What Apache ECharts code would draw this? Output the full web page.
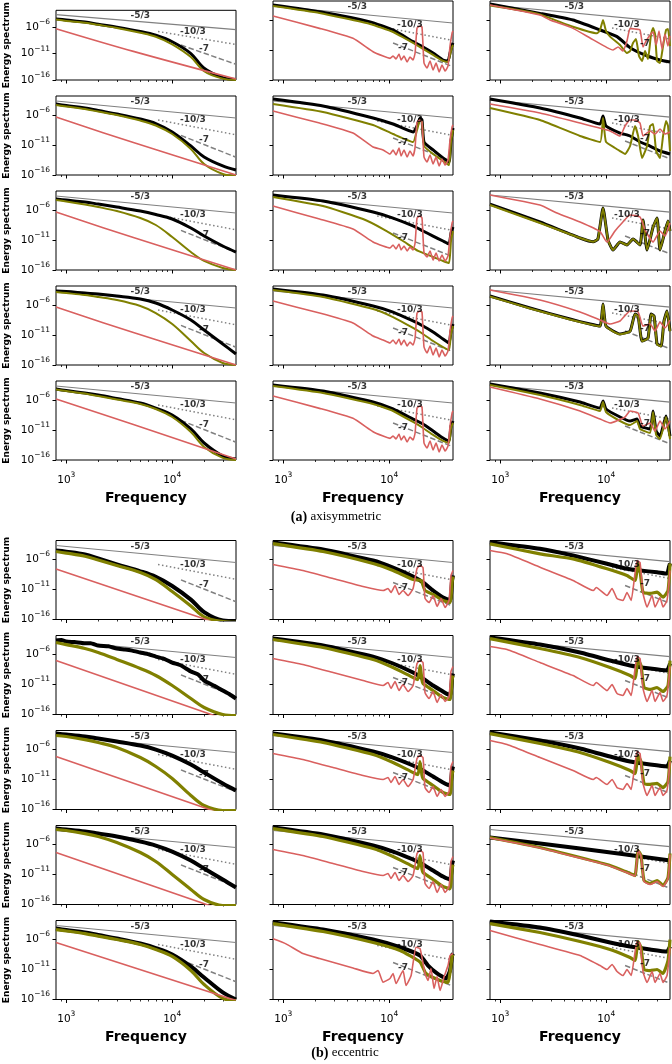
<!DOCTYPE html>
<html><head><meta charset="utf-8">
<script src="https://cdn.jsdelivr.net/npm/echarts@6/dist/echarts.min.js"></script>
<style>html,body{margin:0;padding:0;background:#fff}#c{width:672px;height:1064px}</style>
</head><body><div id="c"></div>
<script>
// ---------- data ----------
const FREQ_GRID = [800, 1000, 1500, 2000, 3000, 5000, 7000, 10000, 15000, 20000, 30000, 40000];
const X_MAJOR = [1000, 10000];
const X_MINOR = [900, 2000, 3000, 4000, 5000, 6000, 7000, 8000, 9000, 20000, 30000];
const Y_MAJOR = [1.0001e-16, 1e-11, 1e-6];

// reference slopes
const ref53C1 = [[800, 2.2e-4], [40000, 3.2e-7]];
const ref53C2 = [[800, 2.2e-4], [40000, 3.2e-7]];
const ref53C3 = [[800, 3.2e-4], [40000, 4.6e-7]];
const ref103C1 = [[7350, 1.5e-7], [40000, 5.2e-10]];
const ref103C2 = [[7700, 1.0e-7], [40000, 4.0e-10]];
const ref103C3 = [[11350, 4.6e-8], [40000, 6.8e-10]];
const ref7C1 = [[12100, 4e-10], [40000, 9.3e-14]];
const ref7C2 = [[10870, 1.5e-10], [40000, 1.6e-14]];
const ref7C3 = [[15060, 4.6e-11], [40000, 5e-14]];
const lblC1 = [[5000, 1.5e-4, '-5/3'], [15700, 1.5e-7, '-10/3'], [20000, 6.8e-11, '-7']];
const lblC2 = [[5000, 1.5e-4, '-5/3'], [15700, 1.5e-7, '-10/3'], [13500, 2.2e-11, '-7']];
const lblC3 = [[5000, 1.5e-4, '-5/3'], [15700, 1.5e-7, '-10/3'], [23270, 1e-10, '-7']];

// (a) column 1 (energies on FREQ_GRID)
const a11K = [3.6e-5, 2.2e-5, 9e-6, 3.6e-6, 1e-6, 1.5e-7, 2.9e-8, 1.7e-9, 1e-11, 1.7e-14, 2.8e-16, 1.2e-16];
const a11O = [2.7e-5, 1.5e-5, 6.8e-6, 2.7e-6, 6.8e-7, 8.3e-8, 1.5e-8, 5.6e-10, 2.2e-12, 4.6e-15, 1.8e-16, 1e-16];
const a11R = [[800, 5.1e-7], [4300, 2.6e-11], [40000, 1.5e-16]];
const a21K = [6.8e-5, 3.8e-5, 1.5e-5, 5.6e-6, 1.5e-6, 2.2e-7, 3.8e-8, 1.5e-9, 6.8e-12, 1e-13, 3.2e-15, 6.8e-16];
const a21O = [4.6e-5, 2.7e-5, 1e-5, 3.8e-6, 1e-6, 1.2e-7, 1.8e-8, 6.8e-10, 2.2e-12, 6.8e-15, 1.5e-16, 8e-17];
const a21R = [[800, 4.6e-7], [4300, 2.6e-11], [40000, 1e-16]];
const a31K = [6.8e-5, 4.6e-5, 2.2e-5, 1e-5, 3.2e-6, 6.8e-7, 1.8e-7, 3.2e-8, 1e-9, 4.6e-11, 1e-12, 1e-13];
const a31O = [4.6e-5, 2.7e-5, 8.3e-6, 3.2e-6, 6.8e-7, 4.6e-8, 3.2e-9, 3.2e-11, 1e-13, 3.2e-15, 2.2e-16, 1e-16];
const a31R = [[800, 4.6e-7], [4300, 2.6e-11], [40000, 1e-16]];
const a41K = [2.2e-4, 1.8e-4, 1e-4, 6.8e-5, 3.2e-5, 1e-5, 2.2e-6, 1.5e-7, 3.2e-9, 6.8e-11, 3.2e-13, 6.8e-15];
const a41O = [1.5e-4, 1e-4, 4.6e-5, 2.2e-5, 6.8e-6, 6.8e-7, 4.6e-8, 6.8e-10, 1e-12, 1e-14, 2.2e-16, 1e-16];
const a41R = [[800, 4.6e-7], [4300, 2.6e-11], [40000, 1e-16]];
const a51K = [6.8e-5, 3.8e-5, 1.5e-5, 6.8e-6, 1.8e-6, 3.2e-7, 4.6e-8, 3.2e-9, 1.5e-11, 6.8e-14, 4.6e-16, 1.5e-16];
const a51O = [5.6e-5, 3.2e-5, 1.2e-5, 4.6e-6, 1.2e-6, 2.2e-7, 3.2e-8, 1.5e-9, 4.6e-12, 1.5e-14, 2.2e-16, 1e-16];
const a51R = [[800, 1.5e-6], [4300, 8e-11], [40000, 1.5e-16]];

// (b) column 1
const b11K = [3.1e-5, 2e-5, 6.8e-6, 1.5e-6, 1.6e-7, 1.1e-8, 1.3e-9, 3.9e-11, 2.1e-13, 1.7e-15, 6.8e-17, 5e-17];
const b11O = [2.2e-5, 1.2e-5, 3.5e-6, 8.3e-7, 1e-7, 6.8e-9, 4.4e-10, 4.6e-12, 1.8e-14, 2.8e-16, 4.6e-17, 3.2e-17];
const b11R = [[800, 2.6e-8], [40000, 2.1e-18]];
const b21K = [[800,2.2e-4],[900,2.6e-4],[1000,1.5e-4],[1200,1.2e-4],[1500,7.5e-5],[1700,8e-5],[2000,3.2e-5],[2500,2.4e-5],[3000,1e-5],[3600,7e-6],[4200,4.5e-6],[5000,2.2e-6],[6000,1.1e-6],[7000,4.6e-7],[8500,1.8e-7],[10000,4.6e-8],[12000,1.6e-8],[15000,1.5e-9],[17500,5e-10],[20000,4.6e-11],[25000,6e-12],[30000,1e-12],[35000,2.2e-13],[40000,4.6e-14]];
const b21O = [1e-4, 4.6e-5, 1e-5, 2.2e-6, 1.5e-7, 4.6e-9, 3.2e-10, 6.8e-12, 4.6e-14, 1.5e-15, 1e-16, 6.8e-17];
const b21R = [[800, 1e-7], [40000, 3.6e-18]];
const b31K = [4.6e-4, 3.2e-4, 1.5e-4, 6.8e-5, 2.2e-5, 4.6e-6, 1e-6, 1e-7, 3.2e-9, 1.5e-10, 2.2e-12, 1.5e-13];
const b31O = [2.2e-4, 1.5e-4, 4.6e-5, 1.5e-5, 2.2e-6, 4.6e-8, 1.5e-9, 1.5e-11, 2.2e-14, 4.6e-16, 6.8e-17, 6.8e-17];
const b31R = [[800, 6.8e-8], [40000, 3e-18]];
const b41K = [4.6e-4, 3.2e-4, 1.5e-4, 6.8e-5, 2.2e-5, 3.2e-6, 6.8e-7, 6.8e-8, 2.2e-9, 1e-10, 1.5e-12, 6.8e-14];
const b41O = [3.2e-4, 2.2e-4, 6.8e-5, 2.2e-5, 2.2e-6, 4.6e-8, 1.5e-9, 1e-11, 3.2e-14, 6.8e-16, 6.8e-17, 6.8e-17];
const b41R = [[800, 4.6e-8], [40000, 2e-18]];
const b51K = [6.8e-5, 3.8e-5, 1.5e-5, 5.6e-6, 1.5e-6, 2.2e-7, 3.8e-8, 3.2e-9, 3.2e-11, 4.6e-13, 1.5e-15, 1e-16];
const b51O = [4.6e-5, 2.7e-5, 1e-5, 3.8e-6, 1e-6, 1.5e-7, 2.2e-8, 1.5e-9, 6.8e-12, 3.2e-14, 1.5e-16, 6.8e-17];
const b51R = [[800, 3.2e-7], [40000, 6.8e-17]];

// (a) column 2
const a12K = [[800,3.2e-4],[2200,2.4e-5],[6600,5e-7],[10870,2.2e-8],[16800,2.5e-10],[20850,3.2e-11],[25940,3.2e-12],[32200,2.2e-13],[35900,1.5e-13],[37500,3.2e-12],[39200,6.8e-11],[40000,1.5e-10]];
const a12O = [[800,2.2e-4],[2200,1.5e-5],[6600,2.2e-7],[10870,1e-8],[16800,1.5e-10],[20850,1.5e-11],[25940,1.5e-12],[32200,1.5e-13],[35900,1e-13],[37500,1.5e-12],[39200,3.2e-11],[40000,6.8e-11]];
const a12R = [[800,4.6e-6],[2200,4.1e-8],[4550,9e-10],[7040,5.2e-12],[8750,1e-12],[10180,4.1e-13],[10870,1e-12],[11600,3.2e-13],[12380,2.2e-12],[12950,2.2e-13],[13800,1e-12],[14760,1e-13],[15700,6.8e-13],[16800,2.2e-13],[17550,3.2e-12],[18300,4.6e-8],[19550,1e-7],[20400,6.8e-8],[21300,6.8e-14],[22750,1e-14],[24300,1.5e-13],[25940,4.6e-15],[27700,6.8e-14],[29600,2.2e-15],[31500,3.2e-14],[33700,3.2e-15],[35900,2.2e-14],[37500,4.6e-11],[39200,6.8e-9],[40000,1.5e-8]];
const a22K = [[800,4.6e-4],[2370,3.2e-5],[7040,3.2e-7],[10870,3.2e-8],[16800,1.5e-9],[18300,1.5e-8],[19550,3.2e-7],[20400,1.5e-7],[21300,3.2e-11],[25940,1.5e-12],[32200,6.8e-14],[36700,1.5e-14],[38300,4.6e-11],[40000,6.8e-9]];
const a22O = [[800,6.8e-5],[2370,3.2e-6],[7040,2.2e-8],[10870,6.8e-10],[16800,3.2e-11],[18300,3.2e-9],[19550,1.5e-7],[20400,6.8e-8],[21300,6.8e-12],[25940,3.2e-13],[32200,2.2e-14],[36700,4.6e-15],[38300,3.2e-11],[40000,3.2e-9]];
const a22R = [[800,4.6e-6],[2200,4.6e-8],[4550,1e-9],[7040,4.6e-12],[8750,1.5e-12],[10180,3.2e-13],[10870,1.5e-12],[11600,2.2e-13],[12380,3.2e-12],[12950,1.5e-13],[13800,1.5e-12],[14760,1e-13],[15700,1e-12],[16800,1.5e-13],[17550,4.6e-12],[18300,6.8e-8],[19550,1.5e-7],[20400,6.8e-8],[21300,1e-13],[22750,1.5e-14],[24300,2.2e-13],[25940,6.8e-15],[27700,1e-13],[29600,3.2e-15],[31500,4.6e-14],[33700,4.6e-15],[35900,3.2e-14],[37500,6.8e-11],[39200,1e-8],[40000,2.2e-8]];
const a32K = [[800,3.2e-4],[2370,3.2e-5],[7040,4.6e-7],[10870,4.6e-8],[16800,2.2e-9],[20850,3.2e-10],[25940,4.6e-11],[32200,6.8e-12],[36700,2.2e-12],[38300,1.5e-10],[40000,1.5e-9]];
const a32O = [[800,1.5e-4],[2370,4.6e-6],[5660,3.2e-8],[8750,6.8e-10],[13500,6.8e-12],[18700,1.5e-13],[25940,1.5e-14],[32200,3.2e-15],[36700,1.5e-15],[38300,6.8e-12],[40000,3.2e-10]];
const a32R = [[800,4.6e-6],[2200,3.2e-8],[4550,6.8e-10],[7040,4.6e-12],[8750,1e-12],[10180,4.6e-13],[10870,1.5e-12],[11600,3.2e-13],[12380,2.2e-12],[12950,2.2e-13],[13800,1e-12],[14760,1.5e-13],[15700,6.8e-13],[16800,2.2e-13],[17550,3.2e-12],[18300,4.6e-8],[19550,1e-7],[20400,4.6e-8],[21300,6.8e-14],[22750,1.5e-14],[24300,1.5e-13],[25940,4.6e-15],[27700,6.8e-14],[29600,3.2e-15],[31500,3.2e-14],[33700,3.2e-15],[35900,2.2e-14],[37500,4.6e-11],[39200,6.8e-9],[40000,1.5e-8]];
const a42K = [[800,4.6e-4],[2370,4.6e-5],[7040,6.8e-7],[10870,6.8e-8],[16800,2.2e-9],[20850,3.2e-10],[25940,3.2e-11],[32200,2.2e-12],[36700,4.6e-13],[38300,4.6e-11],[40000,6.8e-10]];
const a42O = [[800,3.2e-4],[2370,2.2e-5],[7040,2.2e-7],[10870,1e-8],[16800,1.5e-10],[20850,1.5e-11],[25940,1e-12],[32200,1e-13],[36700,3.2e-14],[38300,1.5e-11],[40000,3.2e-10]];
const a42R = [[800,4.6e-6],[2200,4.6e-8],[4550,1e-9],[7040,6.8e-12],[8750,1.5e-12],[10180,4.6e-13],[10870,1.5e-12],[11600,3.2e-13],[12380,2.2e-12],[12950,2.2e-13],[13800,1.5e-12],[14760,1.5e-13],[15700,6.8e-13],[16800,2.2e-13],[17550,3.2e-12],[18300,4.6e-8],[19550,1e-7],[20400,6.8e-8],[21300,1e-13],[22750,1e-14],[24300,1.5e-13],[25940,4.6e-15],[27700,6.8e-14],[29600,2.2e-15],[31500,3.2e-14],[33700,3.2e-15],[35900,2.2e-14],[37500,4.6e-11],[39200,6.8e-9],[40000,1.5e-8]];
const a52K = [[800,3.2e-4],[2370,3.2e-5],[7040,4.6e-7],[10870,3.2e-8],[16800,6.8e-10],[20850,1e-10],[25940,6.8e-12],[32200,4.6e-13],[36700,1.5e-13],[38300,4.6e-11],[40000,3.2e-10]];
const a52O = [[800,2.2e-4],[2370,1.5e-5],[7040,2.2e-7],[10870,1.5e-8],[16800,2.2e-10],[20850,2.2e-11],[25940,1.5e-12],[32200,1.5e-13],[36700,6.8e-14],[38300,2.2e-11],[40000,1.5e-10]];
const a52R = [[800,4.6e-6],[2200,4.1e-8],[4550,9e-10],[7040,5.2e-12],[8750,1e-12],[10180,4.1e-13],[10870,1e-12],[11600,3.2e-13],[12380,2.2e-12],[12950,2.2e-13],[13800,1e-12],[14760,1e-13],[15700,6.8e-13],[16800,2.2e-13],[17550,3.2e-12],[18300,4.6e-8],[19550,1e-7],[20400,6.8e-8],[21300,6.8e-14],[22750,1e-14],[24300,1.5e-13],[25940,4.6e-15],[27700,6.8e-14],[29600,2.2e-15],[31500,3.2e-14],[33700,3.2e-15],[35900,2.2e-14],[37500,4.6e-11],[39200,6.8e-9],[40000,1.5e-8]];

// (b) column 2
const b12K = [[800,6.8e-4],[2370,4.6e-5],[7040,6.8e-7],[10870,4.6e-8],[16800,1.5e-9],[20850,1.5e-10],[25940,6.8e-12],[32200,4.6e-13],[37500,1.5e-13],[39200,3.2e-10],[40000,2.2e-9]];
const b12O = [[800,4.6e-4],[2370,2.2e-5],[7040,2.2e-7],[10870,1.5e-8],[16800,4.6e-10],[20000,3.2e-10],[21780,6.8e-12],[25940,1.5e-12],[32200,1.5e-13],[37500,6.8e-14],[39200,1.5e-10],[40000,1.5e-9]];
const b12R = [[800,1.5e-7],[1530,1.5e-8],[2950,6.8e-10],[5660,3.2e-11],[8750,6.8e-12],[9750,1.5e-11],[10400,3.2e-12],[11350,4.6e-11],[12380,1.5e-12],[13500,6.8e-12],[15060,1e-12],[16800,1.5e-11],[18300,3.2e-8],[19550,1e-7],[20850,4.6e-8],[21780,3.2e-13],[23800,6.8e-14],[25940,1e-12],[28300,1.5e-14],[30900,3.2e-13],[33700,1e-14],[36700,1.5e-13],[38300,2.2e-9],[40000,1.5e-8]];
const b22K = [[800,4.6e-4],[2370,3.2e-5],[7040,4.6e-7],[10870,3.2e-8],[16800,1e-9],[20850,1e-10],[25940,6.8e-12],[32200,6.8e-13],[37500,1.5e-13],[39200,1.5e-10],[40000,6.8e-10]];
const b22O = [[800,3.2e-4],[2370,1.5e-5],[7040,1.5e-7],[10870,6.8e-9],[16800,1.5e-10],[18700,6.8e-11],[19550,1.5e-8],[20400,4.6e-11],[20850,1.5e-11],[25940,1e-12],[32200,6.8e-14],[37500,3.2e-14],[39200,6.8e-11],[40000,3.2e-10]];
const b22R = [[800,2.2e-7],[1530,2.2e-8],[2950,1e-9],[5660,4.6e-11],[8750,6.8e-12],[9750,2.2e-11],[10400,2.2e-12],[11350,3.2e-11],[12380,1e-12],[13500,1e-11],[15060,6.8e-13],[16800,6.8e-12],[18300,3.2e-8],[19550,1e-7],[20850,4.6e-8],[21780,4.6e-13],[23800,4.6e-14],[25940,6.8e-13],[28300,1e-14],[30900,2.2e-13],[33700,1.5e-14],[36700,1e-13],[38300,1.5e-9],[40000,1e-8]];
const b32K = [[800,4.6e-4],[2370,3.2e-5],[7040,4.6e-7],[10870,4.6e-8],[16800,2.2e-9],[20850,3.2e-10],[25940,3.2e-11],[32200,3.2e-12],[37500,1e-12],[39200,3.2e-10],[40000,1.5e-9]];
const b32O = [[800,3.2e-4],[2370,1.5e-5],[7040,1.5e-7],[10870,6.8e-9],[16800,1.5e-10],[18700,6.8e-11],[19550,1e-8],[20400,4.6e-11],[20850,1.5e-11],[25940,1e-12],[32200,6.8e-14],[37500,3.2e-14],[39200,6.8e-11],[40000,3.2e-10]];
const b32R = [[800,2.2e-7],[1530,2.2e-8],[2950,1e-9],[5660,4.6e-11],[8750,1e-11],[9750,2.2e-11],[10400,3.2e-12],[11350,3.2e-11],[12380,1.5e-12],[13500,1e-11],[15060,6.8e-13],[16800,1e-11],[18300,3.2e-8],[19550,1e-7],[20850,4.6e-8],[21780,4.6e-13],[23800,6.8e-14],[25940,6.8e-13],[28300,1.5e-14],[30900,2.2e-13],[33700,1.5e-14],[36700,1e-13],[38300,1.5e-9],[40000,1e-8]];
const b42K = [[800,6.8e-4],[2370,4.6e-5],[7040,6.8e-7],[10870,6.8e-8],[16800,3.2e-9],[20850,4.6e-10],[25940,4.6e-11],[32200,4.6e-12],[37500,1.5e-12],[39200,4.6e-10],[40000,2.2e-9]];
const b42O = [[800,4.6e-4],[2370,2.2e-5],[7040,2.2e-7],[10870,1e-8],[16800,2.2e-10],[18700,1e-10],[19550,1.5e-8],[20400,6.8e-11],[20850,2.2e-11],[25940,1.5e-12],[32200,1e-13],[37500,4.6e-14],[39200,1e-10],[40000,4.6e-10]];
const b42R = [[800,1.5e-7],[1530,1.5e-8],[2950,6.8e-10],[5660,3.2e-11],[8750,6.8e-12],[9750,1.5e-11],[10400,2.2e-12],[11350,2.2e-11],[12380,1e-12],[13500,6.8e-12],[15060,6.8e-13],[16800,6.8e-12],[18300,3.2e-8],[19550,1e-7],[20850,4.6e-8],[21780,3.2e-13],[23800,4.6e-14],[25940,6.8e-13],[28300,1e-14],[30900,2.2e-13],[33700,1e-14],[36700,1e-13],[38300,1.5e-9],[40000,1e-8]];
const b52K = [[800,6.8e-4],[2370,4.6e-5],[7040,1e-6],[12650,5.2e-8],[19550,2.2e-9],[23270,4.6e-11],[28300,2.2e-12],[34400,3.2e-13],[37500,6.8e-12],[39200,2.2e-9],[40000,4.6e-9]];
const b52O = [[800,4.6e-4],[2370,2.2e-5],[7040,3.2e-7],[12650,1.5e-8],[19550,1.8e-10],[22250,2.2e-12],[30200,1.5e-13],[35900,6.8e-14],[37500,3.2e-12],[39200,1.5e-9],[40000,3.2e-9]];
const b52R = [[800,1.3e-6],[1060,1.9e-7],[1530,4.6e-9],[2200,6.8e-10],[4550,1.8e-11],[7040,2.2e-12],[7850,6.8e-12],[8750,7.6e-14],[10180,3.2e-13],[10870,2.2e-12],[11600,4.6e-14],[13500,6.8e-12],[14400,2.2e-14],[16100,1e-12],[17900,5.2e-8],[19550,3.2e-8],[21780,2.2e-12],[23270,1.5e-13],[24800,1.5e-11],[26500,6.8e-15],[28300,6.8e-13],[30200,3.2e-15],[33000,6.8e-13],[35900,4.6e-11],[37500,2.2e-9],[40000,4.6e-9]];

// (a) column 3
const a13K = [[800,4.6e-4],[2370,1.3e-5],[4860,1e-6],[8750,2.2e-8],[12650,1.7e-9],[16800,2.5e-11],[20850,3.2e-12],[25940,6.8e-13],[32200,2.2e-13],[40000,1e-13]];
const a13O = [[800,2.7e-4],[2200,1.3e-5],[4860,7.6e-8],[8200,6.1e-9],[8750,2.2e-8],[9330,1e-6],[9950,1.5e-8],[10870,1.7e-9],[13500,6.8e-11],[15700,3.2e-12],[16800,6.8e-12],[17900,1.5e-10],[19100,6.8e-10],[20400,1e-12],[21780,1.5e-13],[23270,6.8e-12],[24800,3.2e-13],[26500,4.6e-9],[27700,4.6e-8],[28900,4.6e-9],[30200,1.5e-13],[32200,6.8e-14],[34400,4.6e-11],[36700,2.2e-8],[38300,3.2e-8],[40000,4.6e-11]];
const a13R = [[800,3.2e-4],[2370,6.8e-6],[2950,1e-6],[4860,4.1e-8],[7040,1e-9],[10180,2.5e-11],[11600,1e-11],[12950,3.2e-11],[14400,6.8e-12],[15700,3.2e-10],[16800,4.1e-8],[18700,3.2e-8],[20850,2.2e-8],[22250,3.2e-11],[23800,3.2e-10],[25940,3.2e-9],[27700,1e-8],[29600,6.8e-11],[31500,1.5e-8],[33700,1.5e-11],[35900,4.6e-9],[38300,4.6e-11],[40000,2.2e-9]];
const a23K = [[800,4.6e-4],[2370,1.5e-5],[5660,3.2e-7],[8750,3.2e-8],[9330,6.8e-7],[9950,1.5e-8],[13500,1e-9],[16800,3.2e-10],[20850,3.2e-11],[25940,6.8e-12],[32200,1e-12],[40000,3.2e-13]];
const a23O = [[800,1.5e-5],[2370,1.5e-7],[5660,3.2e-10],[8750,3.2e-11],[9330,3.2e-7],[9950,3.2e-11],[12100,3.2e-12],[13500,1e-12],[15060,3.2e-13],[16800,6.8e-12],[18700,1.5e-8],[20000,3.2e-10],[21780,6.8e-14],[24300,6.8e-12],[25940,1.5e-8],[27700,3.2e-8],[29600,1e-12],[32200,6.8e-14],[34400,3.2e-10],[36700,1e-7],[38300,1.5e-8],[40000,1e-12]];
const a23R = [[800,6.8e-5],[2370,2.2e-6],[5660,4.6e-8],[10870,2.2e-9],[13500,3.2e-10],[15060,1.5e-8],[16800,1.5e-7],[18700,1.5e-7],[20850,4.6e-8],[22250,3.2e-10],[25940,2.2e-9],[28900,6.8e-10],[32200,4.6e-9],[35900,6.8e-10],[40000,1.5e-9]];
const a33K = [[800,1e-5],[2370,1e-8],[5660,2.2e-11],[7550,5.2e-12],[8350,1.5e-11],[9330,2.2e-6],[10400,1e-11],[11600,2.2e-13],[13500,4.6e-12],[15700,1.5e-12],[17900,1.5e-11],[20850,1.5e-12],[22250,2.2e-8],[24300,2.2e-13],[27700,1.5e-9],[30200,4.6e-8],[32200,2.2e-13],[35900,3.2e-10],[38300,1.5e-8],[40000,3.2e-10]];
const a33O = [[800,6.8e-6],[2370,6.8e-9],[5660,2.2e-11],[7550,5.2e-12],[8350,1.5e-11],[9330,2.2e-6],[10400,1e-11],[11600,2.2e-13],[13500,4.6e-12],[15700,1.5e-12],[17900,1.5e-11],[20850,1.5e-12],[22250,2.2e-8],[24300,2.2e-13],[27700,1.5e-9],[30200,4.6e-8],[32200,2.2e-13],[35900,3.2e-10],[38300,1.5e-8],[40000,3.2e-10]];
const a33R = [[800,3.2e-4],[2370,6.8e-6],[3430,3.2e-7],[5660,1e-8],[8750,2.5e-10],[10180,4.6e-12],[12100,3.2e-10],[14100,6.8e-9],[16800,1.5e-7],[20850,6.8e-8],[23270,4.6e-10],[27700,4.6e-12],[32200,3.2e-10],[35900,4.6e-11],[40000,6.8e-9]];
const a43K = [[800,3.2e-5],[1910,3.2e-7],[4550,4.6e-9],[7040,6.8e-10],[8750,3.2e-10],[9330,1.5e-6],[9950,3.2e-10],[13500,1.5e-11],[16800,4.6e-11],[18700,3.2e-8],[20000,1.5e-8],[21780,1e-12],[24800,3.2e-12],[26500,3.2e-8],[28300,1.5e-8],[30200,3.2e-13],[33000,1.5e-13],[35100,2.2e-9],[37500,1e-7],[40000,4.6e-11]];
const a43O = [[800,2.7e-5],[1910,2.7e-7],[4550,4e-9],[7040,6e-10],[8750,2.8e-10],[9330,1.4e-6],[9950,2.8e-10],[13500,1.3e-11],[16800,4e-11],[18700,3e-8],[20000,1.3e-8],[21780,9e-13],[24800,2.8e-12],[26500,3e-8],[28300,1.3e-8],[30200,2.8e-13],[33000,1.3e-13],[35100,2e-9],[37500,9e-8],[40000,4e-11]];
const a43R = [[800,3.2e-4],[2370,6.8e-6],[5660,6.8e-8],[8750,3.2e-9],[10870,6.8e-10],[13500,2.2e-9],[16800,1e-7],[20000,6.8e-8],[22250,3.2e-10],[25940,6.8e-10],[28900,4.6e-11],[32200,1.5e-9],[35900,1.5e-10],[40000,3.2e-9]];
const a53K = [[800,4.6e-4],[2370,1.5e-5],[5660,4.6e-7],[8750,4.6e-8],[9330,6.8e-7],[9950,3.2e-8],[13500,1.5e-9],[16800,3.2e-10],[19550,6.8e-10],[20850,4.6e-11],[25940,1.5e-11],[27700,1.5e-8],[29600,6.8e-12],[32200,1e-12],[36700,2.2e-9],[40000,1e-12]];
const a53O = [[800,3.2e-4],[2370,6.8e-6],[5660,1.5e-7],[8750,1.5e-8],[9330,4.6e-7],[9950,1e-8],[13500,3.2e-10],[16800,6.8e-11],[19550,3.2e-10],[20850,1.5e-11],[25940,3.2e-12],[27700,1e-8],[29600,1.5e-12],[32200,3.2e-13],[36700,1.5e-9],[40000,3.2e-13]];
const a53R = [[800,1.5e-4],[2370,1.5e-6],[5660,1.5e-8],[8750,6.8e-10],[10870,1.5e-10],[15060,1.5e-9],[16800,1.5e-8],[20000,6.8e-9],[22250,4.6e-11],[25940,1.5e-10],[28900,6.8e-12],[32200,3.2e-10],[35900,1.5e-11],[40000,3.2e-10]];

// (b) column 3
const b13K = [[800,7.7e-4],[2370,6.1e-5],[4860,4.6e-6],[10180,2e-7],[15700,2.9e-8],[20850,1.5e-8],[30200,7.6e-9],[37500,4.6e-9],[39200,6.8e-8],[40000,2.2e-7]];
const b13O = [[800,4.1e-4],[2370,9e-6],[4860,1.3e-6],[10180,2.9e-8],[15700,2.2e-9],[18700,3.2e-10],[20000,2.2e-7],[20850,1.5e-8],[22250,3.6e-12],[25940,2.2e-12],[30200,3.6e-12],[34400,5.2e-13],[38300,6.8e-12],[40000,2.2e-7]];
const b13R = [[800,3.2e-5],[1160,9e-6],[2370,5.2e-8],[4860,3.2e-10],[7550,6.8e-12],[8050,2.2e-11],[10180,1e-12],[11350,1.5e-11],[12650,3.2e-13],[14400,1.5e-13],[15700,3.2e-12],[17200,1.5e-13],[19550,6.8e-7],[20850,3.2e-7],[22250,2.2e-12],[24300,1.2e-14],[27100,1e-12],[28900,1.2e-14],[32200,4.6e-13],[34400,1.2e-14],[37500,1.5e-13],[40000,1.5e-8]];
const b23K = [[800,6.8e-4],[2370,4.6e-5],[5660,2.2e-6],[10870,1e-7],[16800,1.5e-8],[25940,4.6e-9],[37500,2.2e-9],[40000,3.2e-8]];
const b23O = [[800,4.6e-4],[2370,1e-5],[5660,3.2e-7],[10870,6.8e-9],[16800,3.2e-10],[18700,1e-10],[20000,1.5e-7],[21300,1.5e-8],[22750,3.2e-12],[25940,1.5e-12],[30200,3.2e-12],[34400,6.8e-13],[38300,6.8e-12],[40000,1e-7]];
const b23R = [[800,2.2e-5],[1160,6.8e-6],[2370,4.6e-8],[4860,3.2e-10],[7550,6.8e-12],[8050,2.2e-11],[10180,1e-12],[11350,1e-11],[12650,3.2e-13],[14400,1.5e-13],[15700,2.2e-12],[17200,1.5e-13],[19550,4.6e-7],[20850,2.2e-7],[22250,2.2e-12],[24300,1.5e-14],[27100,1e-12],[28900,1.5e-14],[32200,4.6e-13],[34400,1.5e-14],[37500,1.5e-13],[40000,1e-8]];
const b33K = [[800,6.8e-4],[2370,3.2e-5],[5660,1.5e-6],[10870,6.8e-8],[16800,1e-8],[25940,3.2e-9],[37500,1.5e-9],[40000,1.5e-8]];
const b33O = [[800,4.6e-4],[2370,1e-5],[5660,3.2e-7],[10870,6.8e-9],[16800,3.2e-10],[18700,1e-10],[20000,1e-7],[21300,1e-8],[22750,2.2e-12],[25940,1.5e-12],[30200,2.2e-12],[34400,4.6e-13],[38300,4.6e-12],[40000,6.8e-8]];
const b33R = [[800,3.2e-5],[1160,6.8e-6],[2370,4.6e-8],[4860,3.2e-10],[7550,1e-11],[8050,2.2e-11],[10180,1.5e-12],[11350,1e-11],[12650,4.6e-13],[14400,2.2e-13],[15700,2.2e-12],[17200,2.2e-13],[19550,4.6e-7],[20850,2.2e-7],[22250,2.2e-12],[24300,2.2e-14],[27100,1e-12],[28900,2.2e-14],[32200,4.6e-13],[34400,2.2e-14],[37500,1.5e-13],[40000,1e-8]];
const b43K = [[800,1.5e-5],[5660,2.2e-7],[40000,2.2e-9]];
const b43O = [[800,1.5e-5],[2370,3.2e-7],[5660,6.8e-9],[10870,3.2e-10],[16800,1.5e-11],[18700,6.8e-12],[20000,1e-7],[21300,1.5e-8],[22750,1e-12],[25940,3.2e-13],[30200,1e-12],[34400,1.5e-13],[38300,3.2e-12],[40000,3.2e-8]];
const b43R = [[800,1.2e-5],[2370,2.7e-7],[5660,5.6e-9],[10870,2.7e-10],[16800,1.2e-11],[18700,5.6e-12],[20000,1.2e-7],[21300,1.2e-8],[22750,6.8e-13],[25940,2.2e-13],[30200,6.8e-13],[34400,1e-13],[38300,2.2e-12],[40000,2.2e-8]];
const b53K = [[800,1e-3],[2370,1e-4],[5660,4.6e-6],[10870,3.2e-7],[16800,6.8e-8],[25940,2.2e-8],[37500,1e-8],[40000,6.8e-8]];
const b53O = [[800,4.6e-4],[2370,1.5e-5],[5660,4.6e-7],[10870,2.2e-8],[16800,1e-9],[18700,3.2e-10],[20000,4.6e-7],[21300,4.6e-8],[22750,1e-11],[25940,6.8e-12],[30200,1e-11],[34400,2.2e-12],[38300,3.2e-10],[40000,1e-6]];
const b53R = [[800,3.2e-5],[2370,1.5e-7],[5660,2.2e-9],[8750,4.6e-11],[10180,1e-11],[11350,6.8e-11],[12650,4.6e-12],[14400,1e-12],[15700,1e-11],[17200,1e-12],[19550,4.6e-7],[20850,2.2e-7],[22250,4.6e-12],[24300,6.8e-14],[27100,4.6e-12],[28900,6.8e-14],[32200,2.2e-12],[34400,6.8e-14],[37500,1e-12],[40000,4.6e-8]];

// panel list: [group, row, col, black, olive, red]
const PANELS = [
  ['a',1,1,a11K,a11O,a11R],['a',1,2,a12K,a12O,a12R],['a',1,3,a13K,a13O,a13R],
  ['a',2,1,a21K,a21O,a21R],['a',2,2,a22K,a22O,a22R],['a',2,3,a23K,a23O,a23R],
  ['a',3,1,a31K,a31O,a31R],['a',3,2,a32K,a32O,a32R],['a',3,3,a33K,a33O,a33R],
  ['a',4,1,a41K,a41O,a41R],['a',4,2,a42K,a42O,a42R],['a',4,3,a43K,a43O,a43R],
  ['a',5,1,a51K,a51O,a51R],['a',5,2,a52K,a52O,a52R],['a',5,3,a53K,a53O,a53R],
  ['b',1,1,b11K,b11O,b11R],['b',1,2,b12K,b12O,b12R],['b',1,3,b13K,b13O,b13R],
  ['b',2,1,b21K,b21O,b21R],['b',2,2,b22K,b22O,b22R],['b',2,3,b23K,b23O,b23R],
  ['b',3,1,b31K,b31O,b31R],['b',3,2,b32K,b32O,b32R],['b',3,3,b33K,b33O,b33R],
  ['b',4,1,b41K,b41O,b41R],['b',4,2,b42K,b42O,b42R],['b',4,3,b43K,b43O,b43R],
  ['b',5,1,b51K,b51O,b51R],['b',5,2,b52K,b52O,b52R],['b',5,3,b53K,b53O,b53R]
];
const REFS = {
  1: {s53: ref53C1, s103: ref103C1, s7: ref7C1, lbl: lblC1},
  2: {s53: ref53C2, s103: ref103C2, s7: ref7C2, lbl: lblC2},
  3: {s53: ref53C3, s103: ref103C3, s7: ref7C3, lbl: lblC3}
};

// ---------- chart ----------
const FONT = 'DejaVu Sans';
const RICH = {
  b: {fontFamily: FONT, fontSize: 10.5, color: '#000', lineHeight: 18},
  s: {fontFamily: FONT, fontSize: 7.5, color: '#000', lineHeight: 10, verticalAlign: 'top'}
};
function sci(v) {
  const e = Math.round(Math.log10(v));
  return '{b|10}{s|' + (e < 0 ? '\u2212' + (-e) : String(e)) + '}';
}
function toPairs(arr) {
  return typeof arr[0] === 'number' ? arr.map((e, i) => [FREQ_GRID[i], e]) : arr;
}
const grid = [], xAxis = [], yAxis = [], series = [];
const GRAY = '#808080', BLACK = '#000000', OLIVE = '#808000', RED = '#d9605f';

PANELS.forEach((p, i) => {
  const [g, r, c, K, O, R] = p;
  const left = 56 + 217 * (c - 1);
  const top = (g === 'a' ? 1 : 540.5) + 95 * (r - 1);
  const bottomRow = r === 5, leftCol = c === 1;
  grid.push({left, top, width: 180, height: 79, show: true, borderColor: '#000', borderWidth: 1, backgroundColor: 'transparent'});
  xAxis.push({
    gridIndex: i, type: 'log', logBase: 10, min: 800, max: 40000, position: 'bottom',
    axisLine: {show: false}, splitLine: {show: false},
    axisTick: {show: true, length: 3.5, lineStyle: {color: '#000', width: 1}, customValues: X_MAJOR},
    axisLabel: {show: bottomRow, customValues: X_MAJOR, formatter: sci, rich: RICH, margin: 11},
    name: bottomRow ? 'Frequency' : '', nameLocation: 'middle', nameGap: 31,
    nameTextStyle: {fontFamily: FONT, fontWeight: 'bold', fontSize: 14, color: '#000'}
  });
  xAxis.push({
    gridIndex: i, type: 'log', logBase: 10, min: 800, max: 40000, position: 'bottom',
    axisLine: {show: false}, splitLine: {show: false}, axisLabel: {show: false},
    axisTick: {show: true, length: 2, lineStyle: {color: '#000', width: 0.8}, customValues: X_MINOR}
  });
  yAxis.push({
    gridIndex: i, type: 'log', logBase: 10, min: 1e-16, max: 1.5e-3,
    axisLine: {show: false}, splitLine: {show: false},
    axisTick: {show: true, length: 3.5, lineStyle: {color: '#000', width: 1}, customValues: Y_MAJOR},
    axisLabel: {show: leftCol, customValues: Y_MAJOR, formatter: sci, rich: RICH, margin: 6},
    name: leftCol ? 'Energy spectrum' : '', nameLocation: 'middle', nameGap: 45,
    nameTextStyle: {fontFamily: FONT, fontWeight: 'bold', fontSize: 9, color: '#000'}
  });
  const xi = 2 * i, yi = i;
  const ref = REFS[c];
  const line = (data, color, width, type, z, smooth) => ({
    type: 'line', xAxisIndex: xi, yAxisIndex: yi, data, symbol: 'none', showSymbol: false,
    silent: true, animation: false, clip: true, z, smooth: smooth || false,
    lineStyle: {color, width, type: type || 'solid', cap: 'butt', join: 'round'}
  });
  const sm = c === 1 ? 0.35 : 0.15;
  series.push(line(ref.s53, GRAY, 1.2, 'solid', 2));
  series.push(line(ref.s103, GRAY, 1.5, [1.5, 2.5], 2));
  series.push(line(ref.s7, GRAY, 1.5, [5.5, 2.5], 2));
  series.push(line(toPairs(K), BLACK, g === 'a' ? 3 : 4, 'solid', 3, typeof K[0] === 'number' ? sm : 0.15));
  series.push(line(toPairs(O), OLIVE, g === 'a' ? 2 : 3.2, 'solid', 4, sm));
  series.push(line(toPairs(R), RED, 1.6, 'solid', 5, sm));
  series.push({
    type: 'scatter', xAxisIndex: xi, yAxisIndex: yi, silent: true, animation: false, z: 10,
    symbolSize: 1, itemStyle: {color: 'rgba(0,0,0,0)'},
    data: ref.lbl.map(l => ({value: [l[0], l[1]], label: {formatter: l[2]}})),
    label: {show: true, position: 'inside', fontFamily: FONT, fontWeight: 'bold', fontSize: 9, color: '#000'}
  });
});

const chart = echarts.init(document.getElementById('c'), null, {renderer: 'canvas'});
chart.setOption({
  animation: false,
  backgroundColor: '#fff',
  grid, xAxis, yAxis, series,
  graphic: [
    {type: 'text', x: 336, y: 517, style: {text: '{p|(a)} {t|axisymmetric}', align: 'center', verticalAlign: 'middle',
      rich: {p: {fontFamily: 'Liberation Serif', fontWeight: 'bold', fontSize: 14, fill: '#000'}, t: {fontFamily: 'Liberation Serif', fontSize: 13, fill: '#000'}}}},
    {type: 'text', x: 345, y: 1053, style: {text: '{p|(b)} {t|eccentric}', align: 'center', verticalAlign: 'middle',
      rich: {p: {fontFamily: 'Liberation Serif', fontWeight: 'bold', fontSize: 14, fill: '#000'}, t: {fontFamily: 'Liberation Serif', fontSize: 13, fill: '#000'}}}}
  ]
});
</script></body></html>
